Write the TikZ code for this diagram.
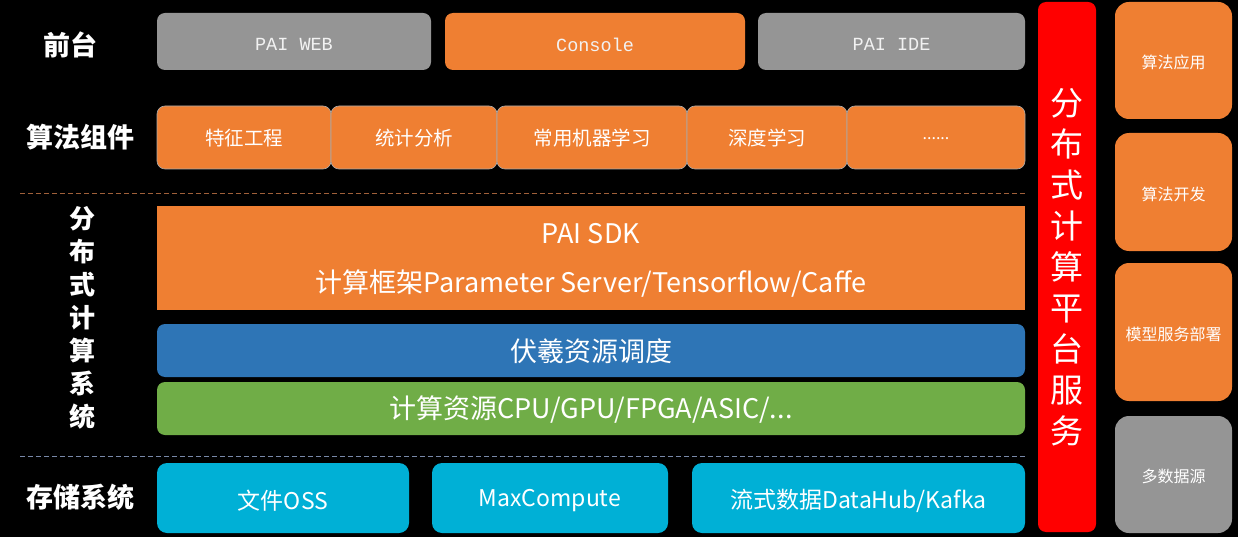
\documentclass[tikz,border=0pt]{standalone}
\usepackage{fontspec}
\setmainfont{Noto Sans CJK SC}
\newfontfamily\cjk{Noto Sans CJK SC}
\newfontfamily\monof{Liberation Mono}
\definecolor{porange}{HTML}{EF7F32}
\definecolor{pgray}{HTML}{959595}
\definecolor{pblue}{HTML}{2E75B6}
\definecolor{pgreen}{HTML}{70AD47}
\definecolor{pcyan}{HTML}{00B0D6}
\definecolor{pred}{HTML}{FF0000}
\definecolor{dashA}{HTML}{A0603A}
\definecolor{dashB}{HTML}{7888A8}
\definecolor{ltext}{HTML}{F2F2F2}
\newcommand{\pbox}[7]{\node[#6, minimum width={#4-#2}, minimum height={#5-#3}] (#1) at ({(#2+#4)/2},{-(#3+#5)/2}) {#7};}
\newcommand{\dn}[2]{\raisebox{-#1pt}[\height][\depth]{#2}}
\tikzset{
  base/.style={inner sep=0pt, outer sep=0pt, text=white, align=center},
  rbox/.style={base, rounded corners=8pt},
  gbox/.style={rbox, fill=pgray, text=ltext},
  obox/.style={rbox, fill=porange, text=ltext},
  cbox/.style={rbox, fill=porange, draw=pgray!80, line width=0.6pt},
  sbox/.style={base, fill=porange},
  bbox/.style={rbox, fill=pblue},
  grbox/.style={rbox, fill=pgreen},
  cybox/.style={rbox, fill=pcyan, rounded corners=10pt},
  redbox/.style={rbox, fill=pred},
  rtbox/.style={rbox, rounded corners=14pt},
  lbl/.style={text=white, font=\cjk\bfseries\fontsize{27}{30}\selectfont, inner sep=0pt},
  sepline/.style={dashed, dash pattern=on 5pt off 3pt, line width=0.8pt},
  topf/.style={font=\monof\fontsize{18.5}{22}\selectfont},
  midf/.style={font=\cjk\fontsize{19.5}{22}\selectfont},
  bigf/.style={font=\cjk\fontsize{27}{30}\selectfont},
  botf/.style={font=\cjk\fontsize{23}{26}\selectfont},
  rightf/.style={font=\cjk\fontsize{16}{19}\selectfont},
}
\begin{document}
\begin{tikzpicture}[x=1pt,y=1pt]
\fill[black] (0,0) rectangle (1238,-537);
\useasboundingbox (0,0) rectangle (1238,-537);
% left labels
\node[lbl] (l1) at (70,-45) {前台};
\node[lbl] (l2) at (80,-137) {算法组件};
\node[lbl, align=center, font=\cjk\bfseries\fontsize{26}{33}\selectfont] (l3) at (82,-318) {分\\布\\式\\计\\算\\系\\统};
\node[lbl] (l4) at (80,-497) {存储系统};
% row 1
\pbox{w1}{157}{13}{431}{70}{gbox, topf}{\dn{3}{PAI WEB}}
\pbox{w2}{445}{13}{745}{70}{obox, topf}{\dn{3}{Console}}
\pbox{w3}{758}{13}{1025}{70}{gbox, topf}{\dn{3}{PAI IDE}}
% row 2
\pbox{a1}{157}{106}{331}{169}{cbox, midf}{\dn{1}{特征工程}}
\pbox{a2}{331}{106}{497}{169}{cbox, midf}{\dn{1}{统计分析}}
\pbox{a3}{497}{106}{687}{169}{cbox, midf}{\dn{1}{常用机器学习}}
\pbox{a4}{687}{106}{847}{169}{cbox, midf}{\dn{1}{深度学习}}
\pbox{a5}{847}{106}{1025}{169}{cbox, font=\cjk\fontsize{16}{18}\selectfont}{\dn{1}{......}}
% separator 1
\coordinate (s1a) at (20,-193);
\coordinate (s1b) at (1025,-193);
\draw[sepline, draw=dashA] (s1a) -- (s1b);
% SDK
\pbox{sdk}{157}{206}{1025}{310}{sbox}{}
\node[text=white, bigf, inner sep=0pt] (sdk1) at (591,-234) {PAI SDK};
\node[text=white, bigf, inner sep=0pt] (sdk2) at (591,-284) {计算框架Parameter Server/Tensorflow/Caffe};
\pbox{fx}{157}{324}{1025}{377}{bbox, bigf}{\dn{1}{伏羲资源调度}}
\pbox{cr}{157}{382}{1025}{435}{grbox, bigf}{\dn{1}{计算资源CPU/GPU/FPGA/ASIC/...}}
% separator 2
\coordinate (s2a) at (20,-456);
\coordinate (s2b) at (1025,-456);
\draw[sepline, draw=dashB] (s2a) -- (s2b);
% storage
\pbox{st1}{157}{463}{409}{533}{cybox, botf}{\dn{3}{文件OSS}}
\pbox{st2}{432}{463}{668}{533}{cybox, botf}{\dn{3}{MaxCompute}}
\pbox{st3}{692}{463}{1025}{533}{cybox, botf}{\dn{3}{流式数据DataHub/Kafka}}
% red platform
\pbox{plat}{1038}{2}{1096}{532}{redbox}{}
\node[text=white, align=center, inner sep=0pt, font=\cjk\fontsize{33}{41}\selectfont] (platt) at (1067,-267) {分\\布\\式\\计\\算\\平\\台\\服\\务};
% right column
\pbox{r1}{1115}{2}{1232}{119}{rtbox, fill=porange, rightf}{\dn{2}{算法应用}}
\pbox{r2}{1115}{133}{1232}{251}{rtbox, fill=porange, rightf}{\dn{2}{算法开发}}
\pbox{r3}{1115}{263}{1232}{401}{rtbox, fill=porange, rightf}{\dn{2}{模型服务部署}}
\pbox{r4}{1115}{416}{1232}{533}{rtbox, fill=pgray, rightf}{\dn{2}{多数据源}}
\end{tikzpicture}
\end{document}
